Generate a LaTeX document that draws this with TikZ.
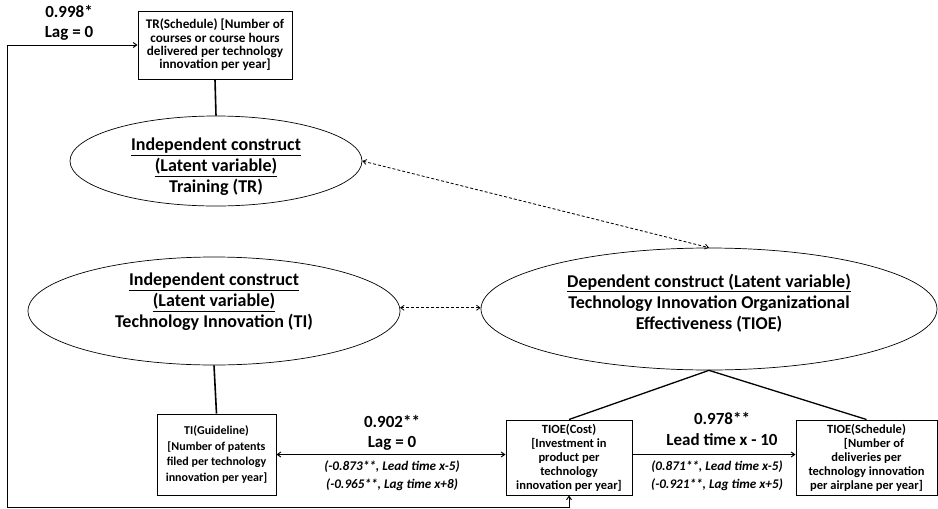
\documentclass[tikz,border=0pt]{standalone}
\usepackage{fontspec}
\setmainfont{Carlito}
\usetikzlibrary{shapes.geometric,arrows.meta}
\begin{document}
\begin{tikzpicture}[x=1pt,y=-1pt,
  font=\bfseries,
  construct/.style={ellipse,draw,line width=0.7pt,inner sep=0pt},
  ctext/.style={align=center,inner sep=0pt,font=\fontsize{18}{21}\selectfont\bfseries},
  indicator/.style={rectangle,draw,line width=1pt,inner sep=0pt,align=center,
    font=\fontsize{12.5}{14}\selectfont\bfseries},
  link/.style={line width=1pt,-{Straight Barb[length=3.5pt,width=5pt]}},
  biglink/.style={line width=1pt,{Straight Barb[length=3.5pt,width=5pt]}-{Straight Barb[length=3.5pt,width=5pt]}},
  corr/.style={dashed,dash pattern=on 3pt off 2pt,line width=0.8pt,
    {Straight Barb[length=3.5pt,width=5pt]}-{Straight Barb[length=3.5pt,width=5pt]}},
  load/.style={line width=1.6pt},
  coef/.style={font=\fontsize{17}{20.5}\selectfont\bfseries,align=center,inner sep=0pt},
  alt/.style={font=\fontsize{13.2}{18}\selectfont\bfseries\itshape,align=center,inner sep=0pt}]
\useasboundingbox (0,0) rectangle (938,509);

% latent constructs
\node[construct,minimum width=292,minimum height=90] (tr) at (216,161) {};
\node[ctext] (trtxt) at (216,167)
  {\underline{Independent construct}\\\underline{(Latent variable)}\\Training (TR)};
\node[construct,minimum width=372,minimum height=108] (ti) at (214,311) {};
\node[ctext] (titxt) at (214,302)
  {\underline{Independent construct}\\\underline{(Latent variable)}\\Technology Innovation (TI)};
\node[construct,minimum width=456,minimum height=122] (tioe) at (709,309) {};
\node[ctext] (tioetxt) at (709,303)
  {\underline{Dependent construct (Latent variable)}\\Technology Innovation Organizational\\Effectiveness (TIOE)};

% observed indicators
\node[indicator,minimum width=154,minimum height=68,font=\fontsize{13.2}{13.4}\selectfont\bfseries] (trbox) at (215,45)
  {TR(Schedule) [Number of\\courses or course hours\\delivered per technology\\innovation per year]};
\node[indicator,minimum width=119,minimum height=81,font=\fontsize{12}{15.5}\selectfont\bfseries] (tibox) at (216.5,454.5)
  {TI(Guideline)\\[0pt][Number of patents\\filed per technology\\innovation per year]};
\node[indicator,minimum width=126,minimum height=75] (cost) at (569,457.5)
  {TIOE(Cost)\\[0pt][Investment in\\product per\\technology\\innovation per year]};
\node[indicator,minimum width=141,minimum height=75] (sched) at (866.5,457.5)
  {TIOE(Schedule)\\[0pt]\hspace{1.2em}[Number of\\deliveries per\\technology innovation\\per airplane per year]};

% loadings
\draw[load] (trbox.south) -- (tr.north);
\draw[load] (ti.south) -- (tibox.north);
\draw[line width=1.3pt] (cost.north) -- (tioe.south) -- (sched.north);

% correlations between constructs
\draw[corr] (tr.east) -- (tioe.north);
\draw[corr] (ti.1.6) -- (tioe.west |- ti.1.6);

% relations between indicators
\draw[biglink] (tibox.east) -- (tibox.east -| cost.west);
\draw[link] (cost.east |- tibox.east) -- (sched.west |- tibox.east);

% feedback path
\coordinate (lt) at (7,45);
\coordinate (lb) at (7,507);
\draw[biglink] (trbox.west) -- (lt) -- (lb) -| (cost.south);

% coefficients
\node[coef] (c1) at (69,23) {0.998*\\Lag = 0};
\node[coef] (c2) at (392,433) {0.902**\\Lag = 0};
\node[alt] (a2) at (392,476) {(-0.873**, Lead time x-5)\\(-0.965**, Lag time x+8)};
\node[coef] (c3) at (722,429) {0.978**\\[1pt]Lead time x - 10};
\node[alt] (a3) at (717,476) {(0.871**, Lead time x-5)\\(-0.921**, Lag time x+5)};
\end{tikzpicture}
\end{document}
